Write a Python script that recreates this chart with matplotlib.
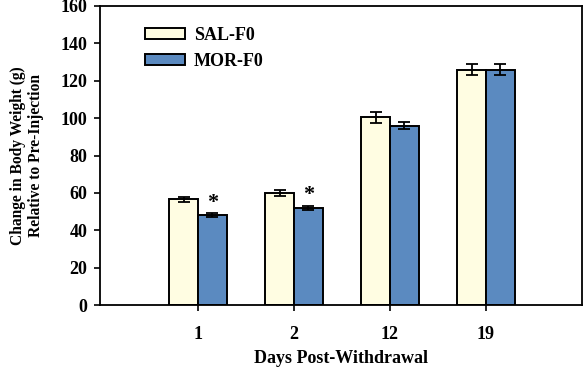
import matplotlib
matplotlib.use("Agg")
import matplotlib.pyplot as plt
import numpy as np

days = ["1", "2", "12", "19"]
sal = [56.5, 60.0, 100.5, 126.0]
sal_err = [1.5, 1.6, 3.0, 3.0]
mor = [48.0, 52.0, 96.0, 126.0]
mor_err = [1.0, 1.0, 2.0, 2.7]
sig = [True, True, False, False]

plt.rcParams['font.family'] = ['Liberation Serif', 'DejaVu Serif']
plt.rcParams['font.weight'] = 'bold'

fig = plt.figure(figsize=(5.83, 3.68), dpi=100)
ax = fig.add_axes([100/583, 1-305/368, 482/583, 299/368])

x = np.arange(len(days))
w = 0.3
ekw = dict(elinewidth=1.3, capthick=1.3)
ax.bar(x - w/2, sal, w, yerr=sal_err, color='#FFFDE2', edgecolor='black', linewidth=1.4,
       capsize=4, error_kw=ekw, label='SAL-F0', zorder=2)
ax.bar(x + w/2, mor, w, yerr=mor_err, color='#5B8AC0', edgecolor='black', linewidth=1.4,
       capsize=4, error_kw=ekw, label='MOR-F0', zorder=2)
for i in range(len(days)):
    if sig[i]:
        ax.text(x[i] + w/2, mor[i] + mor_err[i] + 0.3, '*', ha='center', va='bottom',
                fontsize=16, fontweight='bold')

ax.set_xlim(-1.02, 4.0)
ax.set_ylim(0, 160)
ax.set_yticks(np.arange(0, 161, 20))
ax.set_xticks(x)
ax.set_xticklabels(days)
ax.tick_params(axis='both', direction='out', labelsize=13, width=1.2, length=4)
ax.tick_params(axis='x', pad=11)
ax.tick_params(axis='y', pad=5)
for s in ax.spines.values():
    s.set_linewidth(1.3)
ax.set_xlabel('Days Post-Withdrawal', fontsize=13, fontweight='bold', labelpad=5)
ax.set_ylabel('Change in Body Weight (g)\nRelative to Pre-Injection', fontsize=11.2,
              fontweight='bold', labelpad=12, linespacing=1.15)
leg = ax.legend(loc='upper left', bbox_to_anchor=(0.06, 0.985), frameon=False, fontsize=13,
                handlelength=2.2, handleheight=0.55, labelspacing=0.5, handletextpad=0.5)
fig.savefig('out.png', dpi=100)
